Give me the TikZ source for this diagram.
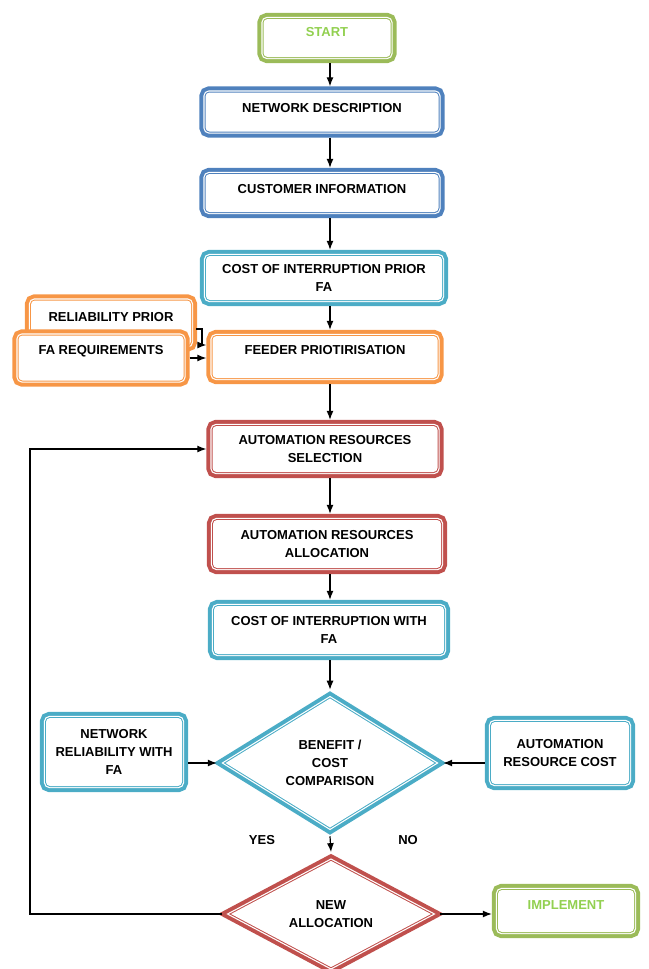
\documentclass[tikz,border=0pt]{standalone}
\usepackage{fontspec}
\setmainfont{Liberation Sans}
\usetikzlibrary{shapes.geometric,arrows.meta}
\definecolor{termgreen}{RGB}{155,187,89}
\definecolor{termtext}{RGB}{146,208,80}
\definecolor{stepblue}{RGB}{79,129,189}
\definecolor{costteal}{RGB}{75,172,198}
\definecolor{inputorange}{RGB}{247,150,70}
\definecolor{allocred}{RGB}{192,80,77}
\begin{document}
\begin{tikzpicture}[x=1pt,y=-1pt,
    box/.style={draw=#1, line width=12.4pt, rounded corners=4pt,
      align=center, font=\bfseries\fontsize{13}{18}\selectfont,
      postaction={draw=white, line width=4.4pt},
      postaction={draw=#1, line width=2pt},
      postaction={fill=white}},
    decision/.style={shape=diamond, draw=#1, line width=12.4pt, inner sep=0pt,
      align=center, font=\bfseries\fontsize{13}{18}\selectfont,
      postaction={draw=white, line width=4.4pt},
      postaction={draw=#1, line width=2pt},
      postaction={fill=white}},
    lifted/.style={text depth=#1},
    flow/.style={-{Latex[length=9pt,width=7pt]}, line width=1.2pt}]
  \useasboundingbox (0,0) rectangle (648,969);
  \coordinate (spine) at (330,0);% x of the main column arrows
  % main column
  \node[box=termgreen, text=termtext, lifted=12pt, minimum width=127pt, minimum height=38pt]
    (start) at (327,38) {START};
  \node[box=stepblue, lifted=9pt, minimum width=233pt, minimum height=39pt]
    (netdesc) at (322,112) {NETWORK DESCRIPTION};
  \node[box=stepblue, lifted=8pt, minimum width=233pt, minimum height=38pt]
    (custinfo) at (322,193) {CUSTOMER INFORMATION};
  \node[box=costteal, minimum width=236pt, minimum height=44pt]
    (coiprior) at (324,278) {COST OF INTERRUPTION PRIOR\\FA};
  % reliability inputs
  \node[box=inputorange, lifted=12pt, minimum width=160pt, minimum height=45pt]
    (relprior) at (111,323) {RELIABILITY PRIOR};
  \node[box=inputorange, lifted=17pt, minimum width=165pt, minimum height=45pt]
    (fareq) at (101,358) {FA REQUIREMENTS};
  \node[box=inputorange, lifted=14pt, minimum width=225pt, minimum height=42pt]
    (feeder) at (325,357) {FEEDER PRIOTIRISATION};
  \node[box=allocred, minimum width=225pt, minimum height=46pt]
    (arsel) at (325,449) {AUTOMATION RESOURCES\\SELECTION};
  \node[box=allocred, minimum width=228pt, minimum height=48pt]
    (aralloc) at (327,544) {AUTOMATION RESOURCES\\ALLOCATION};
  \node[box=costteal, minimum width=230pt, minimum height=48pt]
    (coiwith) at (329,630) {COST OF INTERRUPTION WITH\\FA};
  % decisions
  \node[decision=costteal, minimum width=214pt, minimum height=131pt]
    (benefit) at (330,763) {BENEFIT /\\COST\\COMPARISON};
  \node[box=costteal, minimum width=136pt, minimum height=68pt]
    (netrel) at (114,752) {NETWORK\\RELIABILITY WITH\\FA};
  \node[box=costteal, minimum width=138pt, minimum height=62pt]
    (arcost) at (560,753) {AUTOMATION\\RESOURCE COST};
  \node[decision=allocred, minimum width=205pt, minimum height=92pt]
    (newalloc) at (331,914) {NEW\\ALLOCATION};
  \node[box=termgreen, text=termtext, lifted=12pt, minimum width=136pt, minimum height=42pt]
    (implement) at (566,911) {IMPLEMENT};
  \node[font=\bfseries\fontsize{13}{18}\selectfont] (yes) at (262,840) {YES};
  \node[font=\bfseries\fontsize{13}{18}\selectfont] (no) at (408,840) {NO};
  % connectors
  \draw[flow] (start.south -| spine) -- (netdesc.north -| spine);
  \draw[flow] (netdesc.south -| spine) -- (custinfo.north -| spine);
  \draw[flow] (custinfo.south -| spine) -- (coiprior.north -| spine);
  \draw[flow] (coiprior.south -| spine) -- (feeder.north -| spine);
  \coordinate (rpout) at (196,329);
  \draw[flow] (rpout) -- ++(6,0) |- ([yshift=12pt]feeder.west);
  \draw[flow] (fareq.east) -- (feeder.west |- fareq.east);
  \draw[flow] (feeder.south -| spine) -- (arsel.north -| spine);
  \draw[flow] (arsel.south -| spine) -- (aralloc.north -| spine);
  \draw[flow] (aralloc.south -| spine) -- (coiwith.north -| spine);
  \draw[flow] (coiwith.south -| spine) -- (benefit.north);
  \draw[flow] (netrel.east |- benefit) -- (benefit.west);
  \draw[flow] (arcost.west |- benefit) -- (benefit.east);
  \draw[flow] (benefit.south) -- (newalloc.north);
  \draw[flow] (newalloc.east) -- (implement.west |- newalloc.east);
  \coordinate (loop) at (30,914);
  \draw[flow] (newalloc.west) -- (loop) |- (arsel.west);
\end{tikzpicture}
\end{document}
